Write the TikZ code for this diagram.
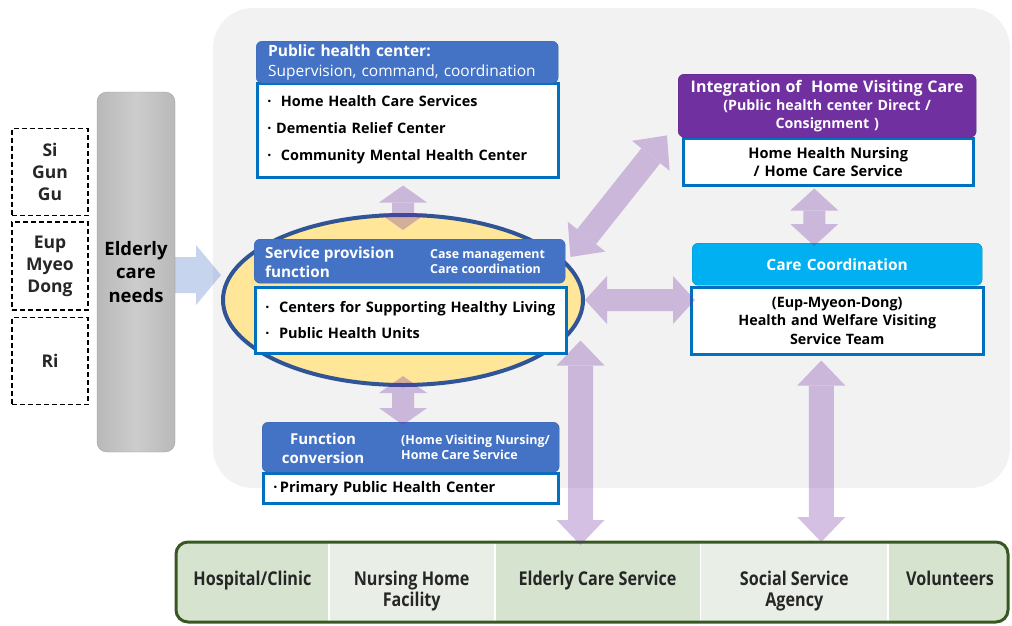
\documentclass[tikz,border=0pt]{standalone}
\usepackage{fontspec}
\setmainfont{Open Sans}
\newfontfamily\narrowfont[FakeStretch=0.85]{Open Sans}
\usetikzlibrary{arrows.meta,shapes.geometric,calc}

\definecolor{panelgray}{RGB}{242,242,242}
\definecolor{headblue}{HTML}{4472C4}
\definecolor{headedge}{HTML}{3A64B0}
\definecolor{itemedge}{HTML}{0070C0}
\definecolor{intpurple}{HTML}{7030A0}
\definecolor{carecyan}{HTML}{00B0F0}
\definecolor{ovalfill}{HTML}{FFE699}
\definecolor{ovaledge}{HTML}{2F5597}
\definecolor{lilac}{HTML}{7030A0}
\definecolor{needblue}{HTML}{4472C4}
\definecolor{celldark}{RGB}{214,227,206}
\definecolor{celllight}{RGB}{233,239,230}
\definecolor{baredge}{RGB}{56,87,35}

\newcommand\fsz[2]{\fontsize{#1}{#2}\selectfont}

\tikzset{
  headbox/.style={draw=headedge, fill=headblue, rounded corners=6pt, text=white,
    anchor=north west, inner xsep=12pt, inner ysep=0pt},
  itembox/.style={draw=itemedge, line width=2.5pt, fill=white, anchor=north west,
    inner xsep=10pt, inner ysep=0pt, align=left},
  areabox/.style={draw, dash pattern=on 5pt off 3pt, line width=1.8pt, minimum width=76pt,
    font=\bfseries\fsz{17.5}{22}, align=center, text=black!85},
  % cells run below the clip so that the first line sits a little low
  cell/.style={draw=white, line width=0.8pt, minimum height=98pt, anchor=north west,
    font=\narrowfont\bfseries\fsz{19}{21}, align=center, text=black!85},
  lilacarrow/.style={draw=lilac, line width=22pt,
    {Triangle[length=#1,width=48pt,line width=0pt]}-{Triangle[length=#1,width=48pt,line width=0pt]}},
  lilacarrow/.default=22pt,
  needarrow/.style={draw=needblue, line width=36pt, -{Triangle[length=25pt,width=60pt,line width=0pt]}},
}

\begin{document}
\begin{tikzpicture}[x=1pt, y=-1pt]
  \useasboundingbox (0,0) rectangle (1012,625);

  % grey working area
  \fill[panelgray, rounded corners=40pt] (213,8) rectangle (1010,488);

  % administrative levels
  \node[areabox, minimum height=87pt] (sigungu) at (50,172) {Si\\Gun\\Gu};
  \node[areabox, minimum height=88pt] (eupmyeon) at (50,266) {Eup\\Myeo\\Dong};
  \node[areabox, minimum height=87pt] (ri) at (50,361) {Ri};

  % needs bar
  \node[draw=gray!75, rounded corners=10pt, minimum width=78pt, minimum height=360pt,
    left color=gray!55, right color=gray!55, middle color=gray!40,
    font=\bfseries\fsz{18.5}{23.5}, align=center] (needs) at (136,272) {Elderly\\care\\needs};

  % oval behind the service provision block
  \node[ellipse, draw=ovaledge, line width=4pt, fill=ovalfill,
    minimum width=360pt, minimum height=170pt] (oval) at (403,300) {};

  % public health center
  \node[itembox, minimum width=301pt, minimum height=94pt, text width=281pt,
    font=\bfseries\fsz{14.4}{27}] (phcbody) at (256,82)
    {·\ \ Home Health Care Services\\·\ Dementia Relief Center\\·\ \ Community Mental Health Center};
  \node[headbox, minimum width=302pt, minimum height=42pt, text width=278pt, align=left,
    font=\fsz{15.5}{20}] (phchead) at (256,41)
    {\textbf{Public health center:}\\Supervision, command, coordination};

  % service provision
  \node[itembox, minimum width=311pt, minimum height=66pt, text width=291pt,
    font=\bfseries\fsz{14.5}{26}] (spbody) at (254,286)
    {·\ \ Centers for Supporting Healthy Living\\·\ \ Public Health Units};
  \node[headbox, minimum width=311pt, minimum height=44pt] (sphead) at (254,239) {};
  \node[anchor=west, text=white, font=\bfseries\fsz{15.3}{19}, align=left, inner sep=0pt]
    (sptitle) at (265,262) {Service provision\\function};
  \node[anchor=west, text=white, font=\bfseries\fsz{12.4}{15}, align=left, inner sep=0pt]
    (sptask) at (430,262) {Case management\\Care coordination};

  % function conversion
  \node[itembox, minimum width=295pt, minimum height=30pt, text width=275pt,
    font=\bfseries\fsz{14.6}{18}] (fcbody) at (262,472) {·\,Primary Public Health Center};
  \node[headbox, minimum width=297pt, minimum height=50pt] (fchead) at (262,422) {};
  \node[text=white, font=\bfseries\fsz{15}{19}, align=center, inner sep=0pt]
    (fctitle) at (323,448) {Function\\conversion};
  \node[anchor=west, text=white, font=\bfseries\fsz{12.5}{15}, align=left, inner sep=0pt]
    (fcmode) at (401,447) {(Home Visiting Nursing/\\Home Care Service};

  % integration of home visiting care
  \node[itembox, minimum width=290pt, minimum height=47pt, text width=270pt, align=center,
    font=\bfseries\fsz{14.6}{18}] (hvbody) at (682,137) {Home Health Nursing\\/ Home Care Service};
  \node[headbox, draw=intpurple!80!black, fill=intpurple, minimum width=298pt, minimum height=63pt,
    text width=274pt, align=center, font=\bfseries\fsz{14.2}{18}] (hvhead) at (678,74)
    {{\fsz{16}{20}Integration of\ \ Home Visiting Care}\\(Public health center Direct /\\Consignment )};

  % care coordination
  \node[itembox, minimum width=292pt, minimum height=67pt, text width=272pt, align=center,
    font=\bfseries\fsz{14.3}{18.5}] (ccbody) at (690,286)
    {(Eup-Myeon-Dong)\\Health and Welfare Visiting\\Service Team};
  \node[headbox, draw=carecyan!80!black, fill=carecyan, minimum width=290pt, minimum height=42pt,
    text width=266pt, align=center, font=\bfseries\fsz{15.5}{20}] (cchead) at (692,243) {Care Coordination};

  % community resources
  \begin{scope}
    \clip[rounded corners=12pt] (176,542) rectangle (1008,622);
    \node[cell, fill=celldark, minimum width=152pt] (clinic) at (176,542)
      {Hospital/Clinic\\\phantom{Facility}};
    \node[cell, fill=celllight, minimum width=165pt] (nursing) at (clinic.north east)
      {Nursing Home\\Facility};
    \node[cell, fill=celldark, minimum width=205pt] (eldercare) at (nursing.north east)
      {Elderly Care Service\\\phantom{Facility}};
    \node[cell, fill=celllight, minimum width=187pt] (social) at (eldercare.north east)
      {Social Service\\Agency};
    \node[cell, fill=celldark, minimum width=123pt] (volunteers) at (social.north east)
      {Volunteers\\\phantom{Facility}};
  \end{scope}
  \draw[baredge, line width=3pt, rounded corners=12pt] (176,542) rectangle (1008,622);

  % links
  \begin{scope}[transparency group, opacity=0.3]
    \draw[needarrow] ($(needs.east)+(0,3)$) -- ($(oval.west |- needs.east)+(0,3)$);
    \draw[lilacarrow=17pt] ($(oval.north |- phcbody.south)+(0,7)$) -- ($(oval.north)+(0,17)$);
    \draw[lilacarrow=17pt] ($(oval.south)+(0,-11)$) -- ($(oval.south |- fchead.north)+(0,3)$);
    \draw[lilacarrow=26pt, line width=24pt] ($(sphead.north east)+(5,18)$) -- ($(hvhead.south west)+(-11,-2)$);
    \draw[lilacarrow] (oval.east) -- ($(oval.east -| ccbody.west)+(5,0)$);
    \draw[lilacarrow=25pt, line width=25pt] ($(spbody.south east)+(13,-14)$) -- ($(spbody.south east |- eldercare.north)+(13,3)$);
    \draw[lilacarrow] ($(hvbody.south)+(-14,2)$) -- ($(hvbody.south |- cchead.north)+(-14,3)$);
    \draw[lilacarrow=25pt, line width=25pt] ($(ccbody.south)+(-16,5)$) -- ($(ccbody.south |- social.north)+(-16,0)$);
  \end{scope}
\end{tikzpicture}
\end{document}
